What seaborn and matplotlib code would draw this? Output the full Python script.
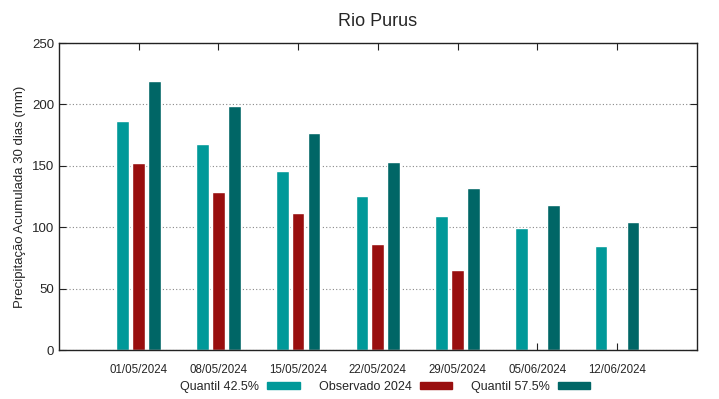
import numpy as np
import pandas as pd
import matplotlib
matplotlib.use("Agg")
import matplotlib.pyplot as plt
from matplotlib.patches import Patch
import seaborn as sns

# Dados
datas = ['01/05/2024', '08/05/2024', '15/05/2024', '22/05/2024',
         '29/05/2024', '05/06/2024', '12/06/2024']
quantil_425 = [186.8, 167.8, 145.6, 125.8, 109.3, 99.0, 85.1]
observado_2024 = [152.4, 128.8, 111.4, 86.0, 64.8, np.nan, np.nan]
quantil_575 = [219.1, 198.5, 176.8, 152.9, 132.0, 118.5, 104.1]

series = ['Quantil 42.5%', 'Observado 2024', 'Quantil 57.5%']
cores = ['#009999', '#990f0f', '#006666']

df = pd.DataFrame({
    'Data': datas * 3,
    'Serie': [series[0]] * 7 + [series[1]] * 7 + [series[2]] * 7,
    'Valor': quantil_425 + observado_2024 + quantil_575,
})

sns.set_style("white")
plt.rcParams['font.family'] = ['Liberation Sans', 'DejaVu Sans']

fig = plt.figure(figsize=(7.19, 3.99), dpi=100)
ax = fig.add_axes([0.082, 0.1228, 0.887, 0.7692])

sns.barplot(data=df, x='Data', y='Valor', hue='Serie', order=datas,
            hue_order=series, palette=cores, width=0.6, gap=0.2,
            saturation=1, errorbar=None, legend=False, ax=ax)

ax.set_xlim(-1, 7)
ax.set_ylim(0, 250)
ax.set_yticks([0, 50, 100, 150, 200, 250])
ax.yaxis.grid(True, linestyle=(0, (1, 2)), color='#888888', linewidth=0.8)
ax.set_axisbelow(True)
for s in ax.spines.values():
    s.set_color('#222222')
    s.set_linewidth(1)
ax.tick_params(axis='x', direction='in', top=True, bottom=True, length=5,
               labelsize=8.3, pad=10, color='#222222')
ax.tick_params(axis='y', direction='in', left=True, right=True, length=5,
               labelsize=9.5, color='#222222')
ax.set_xlabel('')
ax.set_ylabel('Precipitação Acumulada 30 dias (mm)', fontsize=9.5)
ax.set_title('Rio Purus', fontsize=13, pad=12)

handles = [Patch(facecolor=c, edgecolor=c) for c in cores]
fig.legend(handles, series, loc='center', bbox_to_anchor=(0.536, 0.03),
           ncol=3, frameon=False, markerfirst=False, fontsize=9,
           handlelength=2.6, handleheight=0.45, columnspacing=1.5,
           handletextpad=0.65)

fig.savefig('out.png', dpi=100)
